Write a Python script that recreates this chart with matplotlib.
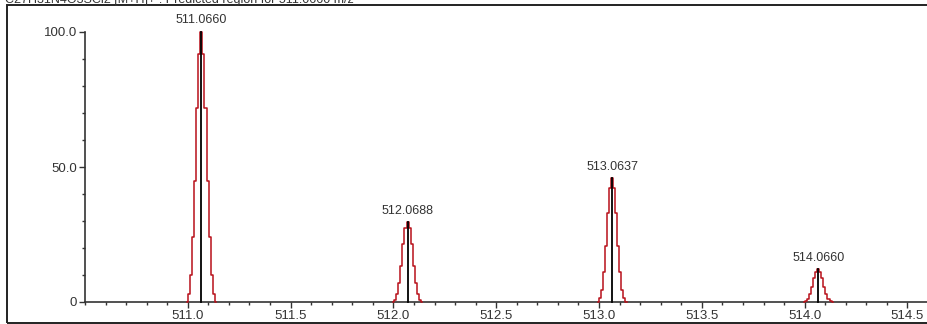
import matplotlib
matplotlib.use("Agg")
import matplotlib.pyplot as plt
from matplotlib.patches import Rectangle
from matplotlib.ticker import MultipleLocator, FixedLocator
import numpy as np

plt.rcParams['font.family'] = ['Liberation Sans', 'DejaVu Sans']

# Isotope peaks: centroid m/z and relative intensity (%)
peak_mz = [511.0660, 512.0688, 513.0637, 514.0660]
peak_int = [100.0, 29.6, 45.9, 12.2]
peak_labels = ["511.0660", "512.0688", "513.0637", "514.0660"]

# Profile shape of each peak (relative height at 0.01 m/z steps around the centroid)
profile_offsets = [-0.07, -0.06, -0.05, -0.04, -0.03, -0.02, -0.01, 0.0,
                   0.01, 0.02, 0.03, 0.04, 0.05, 0.06, 0.07]
profile_shape = [0.0, 0.03, 0.10, 0.24, 0.45, 0.72, 0.92, 1.0,
                 0.92, 0.72, 0.45, 0.24, 0.10, 0.03, 0.0]

x_ticks = [511.0, 511.5, 512.0, 512.5, 513.0, 513.5, 514.0, 514.5]
y_ticks = [0, 50, 100]
y_tick_labels = ["0", "50.0", "100.0"]

header = "C27H31N4O3SCl2 [M+H]+ : Predicted region for 511.0660 m/z"

W, H = 928, 324
fig = plt.figure(figsize=(W / 100, H / 100), dpi=100)
fig.patch.set_facecolor("white")

# outer frame (open on the right, running past the edge)
fig.patches.append(Rectangle((7 / W, 1.5 / H), 1.5, (H - 6.5) / H,
                             transform=fig.transFigure, fill=False,
                             edgecolor="#222222", linewidth=1.4))
fig.text(5 / W, 1 - 3 / H, header, fontsize=9, color="#333333",
         ha="left", va="baseline")

ax = fig.add_axes([85 / W, 22 / H, (W - 85) / W, (302 - 32) / H])
ax.set_xlim(510.5, 514.6)
ax.set_ylim(0, 100)

off = np.array(profile_offsets)
shape = np.array(profile_shape)
for mz, inten, lab in zip(peak_mz, peak_int, peak_labels):
    ax.plot(mz + off, inten * shape, color="#b8101a", linewidth=1.1,
            drawstyle="steps-mid", clip_on=False, zorder=3)
    ax.plot([mz, mz], [0, inten], color="black", linewidth=1.3,
            clip_on=False, zorder=4)
    ax.annotate(lab, (mz, inten), xytext=(0, 4), textcoords="offset points",
                ha="center", va="bottom", fontsize=9, color="#333333")

for side in ("top", "right"):
    ax.spines[side].set_visible(False)
for side in ("left", "bottom"):
    ax.spines[side].set_color("#333333")
    ax.spines[side].set_linewidth(1.2)

ax.xaxis.set_major_locator(FixedLocator(x_ticks))
ax.set_xticklabels([f"{v:.1f}" for v in x_ticks])
ax.xaxis.set_minor_locator(MultipleLocator(0.1))
ax.yaxis.set_major_locator(FixedLocator(y_ticks))
ax.set_yticklabels(y_tick_labels)
ax.yaxis.set_minor_locator(MultipleLocator(10))

ax.tick_params(axis="both", which="major", length=4, width=1.0,
               color="#333333", labelsize=9.5, labelcolor="#333333", pad=1.5)
ax.tick_params(axis="both", which="minor", length=2.5, width=1.0,
               color="#333333")
ax.patch.set_alpha(0)

fig.savefig("out.png", dpi=100, facecolor="white")
